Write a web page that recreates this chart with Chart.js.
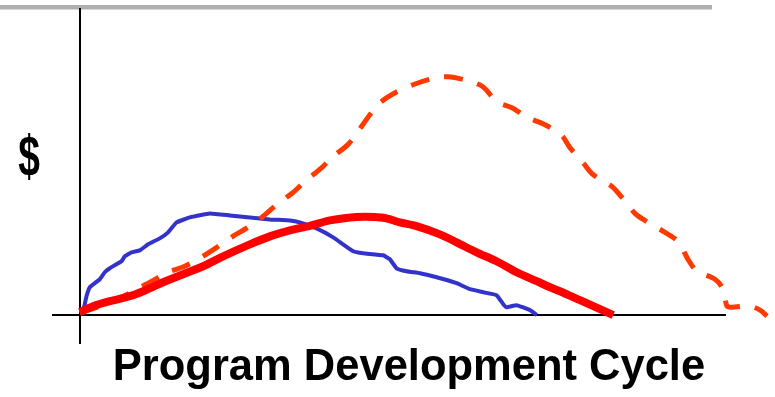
<!DOCTYPE html>
<html>
<head>
<meta charset="utf-8">
<script src="https://cdn.jsdelivr.net/npm/chart.js@4"></script>
<style>
  html, body { margin: 0; padding: 0; background: #fff; }
  #wrap { position: relative; width: 775px; height: 397px; overflow: hidden; }
  #rule { position: absolute; left: 0; top: 5px; width: 712px; height: 4px; background: #b0b0b0; border-bottom: 1px solid #d6d6d6; }
  canvas { position: absolute; left: 0; top: 0; }
</style>
</head>
<body>
<div id="wrap">
  <div id="rule"></div>
  <canvas id="chart" width="775" height="397"></canvas>
</div>
<script>
// Time through the development cycle (0 = start) and relative spend ($) for each curve.
const blueX = [0.46, 0.67, 1.04, 1.55, 3.1, 3.87, 4.64, 5.68, 6.46, 6.97, 8.0, 9.29, 10.57, 12.38, 13.67, 14.97, 17.03, 20.12, 23.22, 26.32, 29.41, 32.51, 34.06, 36.64, 39.21, 42.31, 43.86, 46.95, 47.99, 49.02, 50.57, 52.63, 55.22, 58.31, 60.37, 62.43, 64.5, 65.53, 66.05, 67.6, 69.66, 70.74];
const blueY = [0.32, 2.6, 6.17, 9.09, 11.69, 13.96, 15.26, 16.56, 17.53, 19.16, 20.45, 21.1, 23.05, 25.0, 26.95, 30.19, 31.82, 33.12, 32.47, 31.82, 31.17, 30.84, 30.19, 28.25, 25.32, 20.78, 20.13, 19.48, 18.18, 15.26, 14.29, 13.64, 12.34, 10.39, 8.44, 7.47, 6.49, 3.57, 2.6, 3.25, 1.62, 0];

const redX = [0, 2.06, 4.64, 7.74, 9.8, 12.89, 15.99, 19.09, 22.18, 26.32, 29.41, 32.51, 35.6, 38.7, 42.83, 46.95, 49.54, 52.12, 55.73, 58.31, 61.41, 64.5, 67.6, 70.7, 72.76, 74.3, 77.4, 80.5, 82.55];
const redY = [0.97, 2.92, 4.55, 6.17, 7.79, 10.71, 13.31, 15.91, 19.16, 23.05, 25.65, 27.6, 29.06, 30.84, 31.98, 31.72, 30.19, 28.99, 26.3, 23.7, 20.45, 17.53, 13.96, 11.04, 9.09, 7.79, 4.87, 1.95, 0];

const dashX = [0, 3.1, 5.88, 8.82, 11.15, 13.62, 16.25, 19.04, 21.21, 23.68, 26.01, 28.33, 30.5, 33.0, 34.83, 37.46, 39.0, 41.49, 43.03, 44.89, 46.44, 49.07, 51.55, 54.49, 56.97, 60.06, 62.38, 64.55, 66.87, 69.35, 71.98, 74.61, 75.85, 77.86, 79.41, 82.35, 83.9, 85.91, 87.93, 90.56, 92.57, 94.12, 95.51, 98.3, 99.54, 100.15, 100.93, 103.72, 105.26, 106.35];
const dashY = [0.65, 2.92, 5.19, 8.44, 11.04, 13.96, 15.91, 19.16, 22.08, 25.65, 28.57, 32.14, 36.04, 39.94, 43.51, 48.05, 51.3, 55.52, 59.74, 65.26, 69.16, 72.73, 75.0, 76.95, 77.6, 76.3, 74.35, 69.48, 67.53, 64.29, 62.01, 58.44, 54.55, 49.68, 45.78, 41.88, 38.31, 33.12, 30.19, 26.95, 24.03, 18.18, 14.29, 11.69, 8.44, 2.92, 2.6, 2.92, 1.62, -0.32];

const axisLabel = '$';
const chartTitle = 'Program Development Cycle';

const pts = (xs, ys) => xs.map((x, i) => ({ x, y: ys[i] }));

// Axis lines are the zero grid line of each scale.
const zeroOnly = s => { s.ticks = [{ value: 0 }]; };

const labels = {
  id: 'labels',
  afterDraw(chart) {
    const c = chart.ctx;
    c.save();
    c.fillStyle = '#000';
    c.textBaseline = 'alphabetic';
    c.textAlign = 'center';
    // tall, narrow dollar sign
    c.save();
    c.translate(29, 176);
    c.scale(0.75, 1.09);
    c.font = 'bold 52px "Liberation Sans", Arial, sans-serif';
    c.fillText(axisLabel, 0, 0);
    c.restore();
    c.font = 'bold 43.5px "Liberation Sans", Arial, sans-serif';
    c.fillText(chartTitle, 409, 380);
    c.restore();
  }
};

new Chart(document.getElementById('chart'), {
  type: 'line',
  data: {
    datasets: [
      { data: pts(redX, redY), borderColor: '#ff0000', borderWidth: 8, tension: 0.3, order: 0 },
      { data: pts(dashX, dashY), borderColor: '#ff3a00', borderWidth: 5, borderDash: [19, 15], tension: 0.3, clip: false, order: 1 },
      { data: pts(blueX, blueY), borderColor: '#3333cc', borderWidth: 4, tension: 0.1, order: 2 }
    ]
  },
  options: {
    responsive: false,
    animation: false,
    events: [],
    layout: { padding: { left: 52, right: 49, top: 8, bottom: 53 } },
    elements: { point: { radius: 0 }, line: { fill: false, borderCapStyle: 'butt', borderJoinStyle: 'round' } },
    plugins: { legend: { display: false }, tooltip: { enabled: false }, title: { display: false } },
    scales: {
      x: {
        type: 'linear', min: -4.3, bounds: 'data',
        // The axis ends at 100; set here rather than through options.max so the
        // dashed curve's tail past the axis end is still drawn.
        afterDataLimits: s => { s.max = 100; },
        afterBuildTicks: zeroOnly,
        ticks: { display: false },
        border: { display: false },
        grid: { color: '#000', lineWidth: 2, drawTicks: false }
      },
      y: {
        type: 'linear', min: -9.4, max: 100,
        afterBuildTicks: zeroOnly,
        ticks: { display: false },
        border: { display: false },
        grid: { color: '#000', lineWidth: 2, drawTicks: false }
      }
    }
  },
  plugins: [labels]
});
</script>
</body>
</html>
